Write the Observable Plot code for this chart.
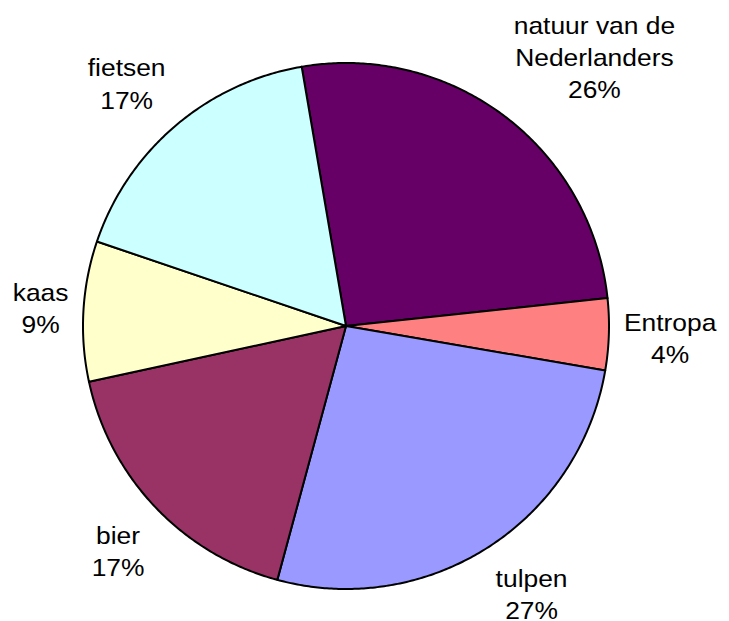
<!DOCTYPE html>
<html>
<head>
<meta charset="utf-8">
<script src="https://cdn.jsdelivr.net/npm/d3@7"></script>
<script src="https://cdn.jsdelivr.net/npm/@observablehq/plot@0.6"></script>
<style>
  html, body { margin: 0; padding: 0; background: #ffffff; }
  #chart { width: 729px; height: 621px; }
</style>
</head>
<body>
<div id="chart"></div>
<script>
// ---- data ----
const names = ["natuur van de\nNederlanders", "Entropa", "tulpen", "bier", "kaas", "fietsen"];
const values = [26.0, 4.4, 26.5, 17.4, 8.6, 17.1];
const colors = ["#660066", "#FF8080", "#9999FF", "#993366", "#FFFFCC", "#CCFFFF"];
const startAngleDeg = -9.7;

// ---- layout helpers ----
const W = 729, H = 621;
const cx = 345.5, cy = 325.5, R = 263;
const fontSize = 24, lineHeight = 1.35, stretch = 1.1;
const fontFamily = "'Liberation Sans', Arial, Helvetica, sans-serif";

const total = d3.sum(values);
const rad = Math.PI / 180;

const polyRows = [];
const labelRows = [];
const canvas = document.createElement("canvas");
const ctx = canvas.getContext("2d");
ctx.font = `${fontSize}px ${fontFamily}`;
const f = t => Math.max(-1, Math.min(1, 2 * t));

let acc = startAngleDeg;
values.forEach((v, i) => {
  const a0 = acc, a1 = acc + v / total * 360;
  acc = a1;
  polyRows.push({slice: i, x: 0, y: 0, color: colors[i]});
  const steps = Math.max(2, Math.ceil((a1 - a0) / 0.5));
  for (let k = 0; k <= steps; k++) {
    const a = (a0 + (a1 - a0) * k / steps) * rad;
    polyRows.push({slice: i, x: Math.sin(a), y: Math.cos(a), color: colors[i]});
  }
  const text = names[i] + "\n" + Math.round(v / total * 100) + "%";
  const lines = text.split("\n");
  const w = stretch * d3.max(lines, l => ctx.measureText(l).width);
  const h = lines.length * fontSize * lineHeight;
  const am = ((a0 + a1) / 2) * rad;
  const s = Math.sin(am), c = Math.cos(am);
  const D = 278 / R;
  labelRows.push({
    text,
    x: D * s + f(s) * (w / 2) / R,
    y: D * c + f(c) * (h / 2) / R
  });
});

const chart = Plot.plot({
  width: W,
  height: H,
  margin: 0,
  style: {background: "#ffffff", fontFamily: fontFamily},
  x: {domain: [-1, 1], range: [cx - R, cx + R], axis: null},
  y: {domain: [-1, 1], range: [cy + R, cy - R], axis: null},
  marks: [
    Plot.line(polyRows, {
      x: "x", y: "y", z: "slice",
      fill: "color",
      stroke: "#000000",
      strokeWidth: 2,
      strokeLinejoin: "round",
      curve: "linear-closed"
    }),
    Plot.text(labelRows, {
      x: "x", y: "y", text: "text",
      fontSize: fontSize,
      lineHeight: lineHeight,
      lineAnchor: "middle",
      textAnchor: "middle",
      fill: "#000000",
      fontFamily: fontFamily
    })
  ]
});
// widen the label glyphs slightly, as in the reference
chart.querySelectorAll("text").forEach(t => {
  const tr = t.getAttribute("transform");
  if (tr) {
    t.setAttribute("transform", tr + ` scale(${stretch},1)`);
  } else {
    const x = +t.getAttribute("x") || 0, y = +t.getAttribute("y") || 0;
    t.removeAttribute("x"); t.removeAttribute("y");
    t.setAttribute("transform", `translate(${x},${y}) scale(${stretch},1)`);
  }
});
document.getElementById("chart").appendChild(chart);
</script>
</body>
</html>
